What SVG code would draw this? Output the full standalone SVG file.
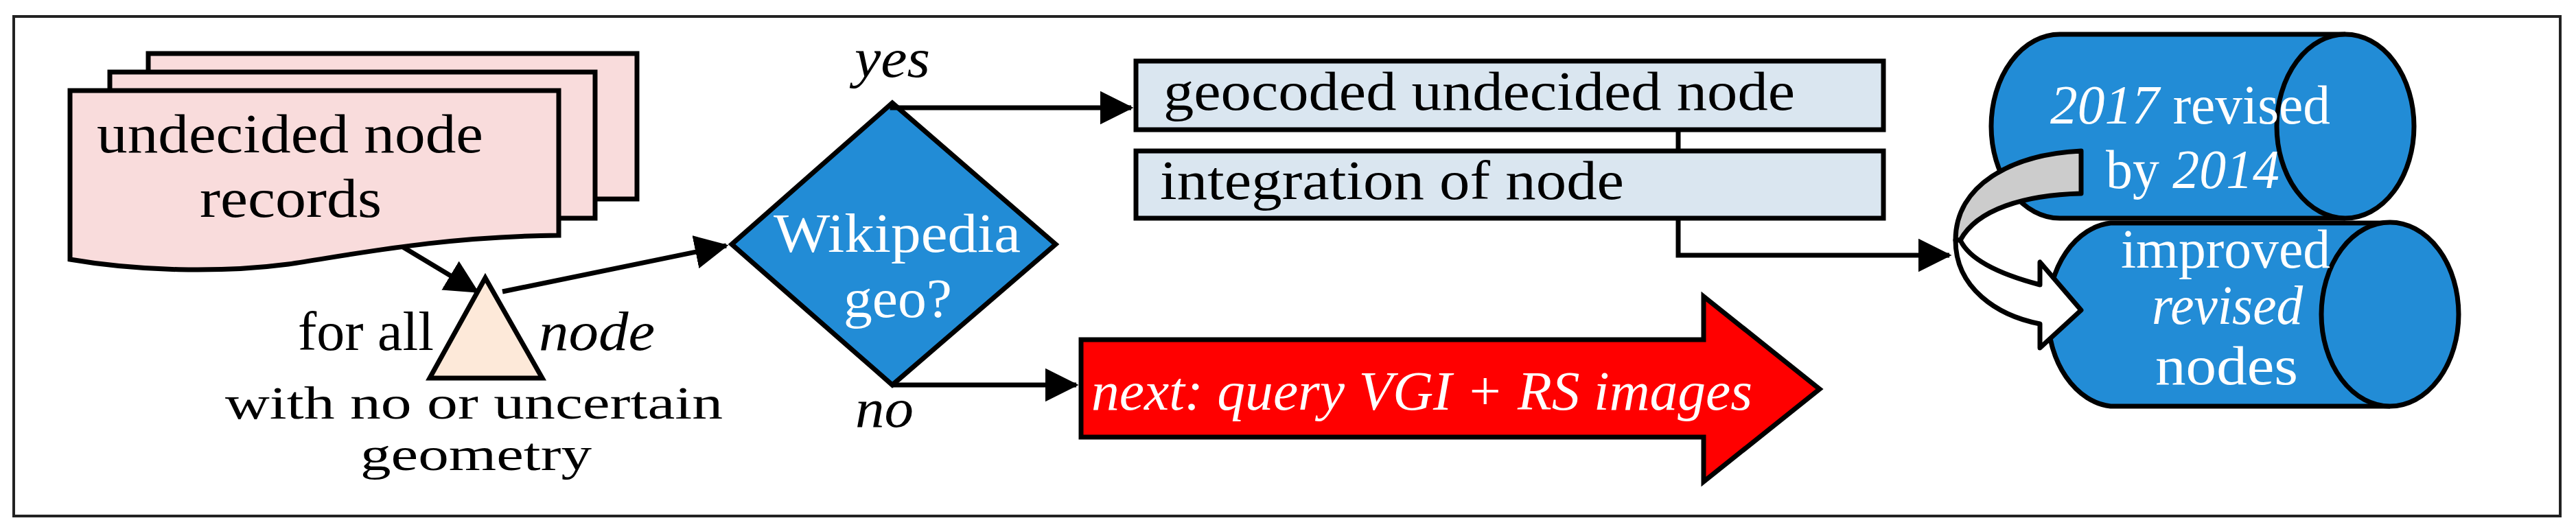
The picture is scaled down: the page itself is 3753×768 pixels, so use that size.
<svg xmlns="http://www.w3.org/2000/svg" width="3753" height="768" viewBox="0 0 3753 768">
<style>
text{font-family:"Liberation Serif",serif;font-size:80px;fill:#000}
.w{fill:#fff}
.i{font-style:italic}
.sm{font-size:68px}
.s{stroke:#000;stroke-width:7;fill:none}
.o{stroke:#000;stroke-width:7}
</style>
<defs>
<marker id="ah" markerWidth="7" markerHeight="7" refX="6.5" refY="3.5" orient="auto" markerUnits="strokeWidth"><path d="M0,0 L7,3.5 L0,7 Z" fill="#000"/></marker>
</defs>
<rect x="20" y="24" width="3710" height="728" fill="#fff" stroke="#222" stroke-width="4"/>
<g id="records">
<rect x="216" y="78" width="712" height="212" fill="#f9dcdc" class="o"/>
<rect x="160" y="105" width="707" height="213" fill="#f9dcdc" class="o"/>
<path d="M102,132 L814,132 L814,343 C640,345 520,370 420,385 C320,398 200,395 102,378 Z" fill="#f9dcdc" class="o"/>
<text x="141" y="222" textLength="563" lengthAdjust="spacingAndGlyphs">undecided node</text>
<text x="291" y="316" textLength="265" lengthAdjust="spacingAndGlyphs">records</text>
</g>
<g id="loop">
<path d="M707,405 L790,551 L626,551 Z" fill="#fde9d9" class="o"/>
<text x="434" y="510" textLength="198" lengthAdjust="spacingAndGlyphs">for all</text>
<text x="785" y="510" class="i" textLength="169" lengthAdjust="spacingAndGlyphs">node</text>
<text x="328" y="610" class="sm" textLength="725" lengthAdjust="spacingAndGlyphs">with no or uncertain</text>
<text x="525" y="685" class="sm" textLength="337" lengthAdjust="spacingAndGlyphs">geometry</text>
</g>
<g id="decision">
<path d="M1300,150 L1538,356 L1300,561 L1066,356 Z" fill="#228cd6" class="o"/>
<text x="1127" y="367" class="w" textLength="360" lengthAdjust="spacingAndGlyphs">Wikipedia</text>
<text x="1229" y="462" class="w" textLength="158" lengthAdjust="spacingAndGlyphs">geo?</text>
<text x="1245" y="112" class="i" textLength="110" lengthAdjust="spacingAndGlyphs">yes</text>
<text x="1246" y="622" class="i" textLength="85" lengthAdjust="spacingAndGlyphs">no</text>
</g>
<g id="geocoded">
<rect x="1655" y="89" width="1089" height="100" fill="#dae6f0" class="o"/>
<text x="1695" y="160" textLength="920" lengthAdjust="spacingAndGlyphs">geocoded undecided node</text>
</g>
<g id="integration">
<rect x="1655" y="220" width="1089" height="98" fill="#dae6f0" class="o"/>
<text x="1690" y="290" textLength="676" lengthAdjust="spacingAndGlyphs">integration of node</text>
</g>
<g id="next">
<path d="M1575,495 L2482,495 L2482,432 L2651,567 L2482,702 L2482,637 L1575,637 Z" fill="#ff0000" class="o"/>
<text x="1590" y="597" class="w i" textLength="963" lengthAdjust="spacingAndGlyphs">next: query VGI + RS images</text>
</g>
<g id="cyl2014">
<path d="M3417,50 L3001,50 A100,134 0 0 0 3001,318 L3417,318" fill="#228cd6" class="o"/>
<ellipse cx="3417" cy="184" rx="100" ry="134" fill="#228cd6" class="o"/>
<text x="2987" y="180" class="w" textLength="408" lengthAdjust="spacingAndGlyphs"><tspan class="i">2017</tspan> revised</text>
<text x="3068" y="274" class="w" textLength="253" lengthAdjust="spacingAndGlyphs">by <tspan class="i">2014</tspan></text>
</g>
<g id="cylimproved">
<path d="M3482,325 L3075,325 A100,134 0 0 0 3075,592 L3482,592" fill="#228cd6" class="o"/>
<ellipse cx="3482" cy="458" rx="100" ry="134" fill="#228cd6" class="o"/>
<text x="3090" y="390" class="w" textLength="305" lengthAdjust="spacingAndGlyphs">improved</text>
<text x="3135" y="472" class="w i" textLength="220" lengthAdjust="spacingAndGlyphs">revised</text>
<text x="3140" y="560" class="w" textLength="208" lengthAdjust="spacingAndGlyphs">nodes</text>
</g>
<g id="revisearrow">
<path d="M3032,220 L3032,282 C2950,284 2880,305 2856,350 L2849,350 C2849,270 2930,225 3032,220 Z" fill="#cccccc" class="o" stroke-linejoin="round"/>
<path d="M2849,350 C2849,420 2910,460 2972,472 L2972,507 L3032,452 L2972,382 L2972,415 C2915,400 2870,380 2856,350 Z" fill="#fff" class="o" stroke-linejoin="round"/>
</g>
<g id="connectors">
<path d="M587,360 L695,425" class="s" marker-end="url(#ah)"/>
<path d="M732,425 L1058,358" class="s" marker-end="url(#ah)"/>
<path d="M1300,150 L1300,157 L1648,157" class="s" marker-end="url(#ah)"/>
<path d="M1300,561 L1568,561" class="s" marker-end="url(#ah)"/>
<path d="M2445,189 L2445,220" class="s"/>
<path d="M2445,318 L2445,372 L2840,372" class="s" marker-end="url(#ah)"/>
</g>
</svg>
